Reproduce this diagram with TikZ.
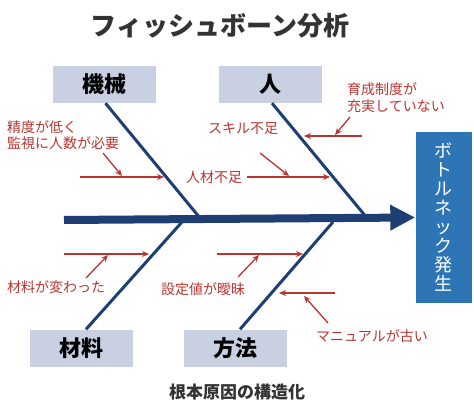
\documentclass[tikz,border=0pt]{standalone}
\usepackage{fontspec}
\setmainfont{Noto Sans CJK JP}
\usetikzlibrary{arrows.meta}
\definecolor{navy}{RGB}{31,63,116}
\definecolor{causered}{RGB}{186,52,48}
\definecolor{boxgray}{RGB}{201,208,226}
\definecolor{effectblue}{RGB}{46,117,182}
\definecolor{titlegray}{RGB}{51,51,51}
\tikzset{
  cat/.style={fill=boxgray, minimum width=103pt, minimum height=37pt, inner sep=0pt,
    font=\fontsize{22}{24}\selectfont\bfseries},
  bone/.style={navy, line width=3pt},
  cause/.style={causered, line width=1.3pt, -{Stealth[length=7pt,width=6pt]}},
  note/.style={causered, inner sep=0pt, align=left, font=\fontsize{14}{16.5}\selectfont}
}
\begin{document}
\begin{tikzpicture}[x=1pt,y=-1pt]
  \useasboundingbox (0,0) rectangle (474,414);

  \node (title) [titlegray, font=\fontsize{26}{28}\selectfont\bfseries] at (220,26) {フィッシュボーン分析};
  \node (footer) [titlegray, font=\fontsize{17}{19}\selectfont\bfseries] at (237,392) {根本原因の構造化};

  % categories
  \node (machine) [cat] at (104.5,84.5) {機械};
  \node (people) [cat] at (270,84.5) {人};
  \node (material) [cat] at (81,348) {材料};
  \node (method) [cat] at (235,348) {方法};

  % effect
  \node (effect) [fill=effectblue, text=white, minimum width=56pt, minimum height=171pt, inner sep=0pt,
    align=center, font=\fontsize{18}{19}\selectfont] at (443.5,217.5) {ボ\\ト\\ル\\ネ\\ッ\\ク\\発\\生};

  % spine
  \coordinate (tail) at (64,220);
  \draw [navy, line width=8pt, -{Triangle[length=25pt,width=24pt]}] (tail) -- (effect.west);

  % bones
  \coordinate (jm) at (200,218);
  \coordinate (jp) at (367,218);
  \coordinate (jt) at (182,222);
  \coordinate (jh) at (333,222);
  \draw [bone] ([xshift=1pt]machine.south) -- (jm);
  \draw [bone] ([xshift=2pt]people.south) -- (jp);
  \draw [bone] ([xshift=5pt]material.north) -- (jt);
  \draw [bone] ([xshift=5pt]method.north) -- (jh);

  % causes: machine
  \node (accuracy) [note, anchor=west] at (7,135) {精度が低く\\監視に人数が必要};
  \coordinate (m1) at (80,177);
  \coordinate (m2) at (164,177);
  \coordinate (m3) at (103,153);
  \coordinate (m4) at (122,176);
  \draw [cause] (m1) -- (m2);
  \draw [cause] (m3) -- (m4);

  % causes: people
  \node (skill) [note] at (243,129) {スキル不足};
  \node (staff) [note] at (214,177) {人材不足};
  \node (training) [note, anchor=west] at (347,97.5) {育成制度が\\充実していない};
  \coordinate (p1) at (staff.east);
  \coordinate (p2) at (330,177);
  \coordinate (p3) at (260,153);
  \coordinate (p4) at (289,176);
  \coordinate (p5) at (362,136);
  \coordinate (p6) at (304,136);
  \coordinate (p7) at (350,117);
  \coordinate (p8) at (335,135);
  \draw [cause] ([xshift=5pt]p1) -- (p2);
  \draw [cause] (p3) -- (p4);
  \draw [cause] (p5) -- (p6);
  \draw [cause] (p7) -- (p8);

  % causes: material
  \node (changed) [note] at (56,287) {材料が変わった};
  \coordinate (t1) at (64,254);
  \coordinate (t2) at (149,254);
  \coordinate (t3) at (86,278);
  \coordinate (t4) at (108,255);
  \draw [cause] (t1) -- (t2);
  \draw [cause] (t3) -- (t4);

  % causes: method
  \node (setting) [note] at (203,289) {設定値が曖昧};
  \node (manual) [note] at (372,336) {マニュアルが古い};
  \coordinate (h1) at (217,254);
  \coordinate (h2) at (303,254);
  \coordinate (h3) at (238,277);
  \coordinate (h4) at (259,255);
  \coordinate (h5) at (335,293);
  \coordinate (h6) at (279,293);
  \coordinate (h7) at (328,323);
  \coordinate (h8) at (304,296);
  \draw [cause] (h1) -- (h2);
  \draw [cause] (h3) -- (h4);
  \draw [cause] (h5) -- (h6);
  \draw [cause] (h7) -- (h8);
\end{tikzpicture}
\end{document}
